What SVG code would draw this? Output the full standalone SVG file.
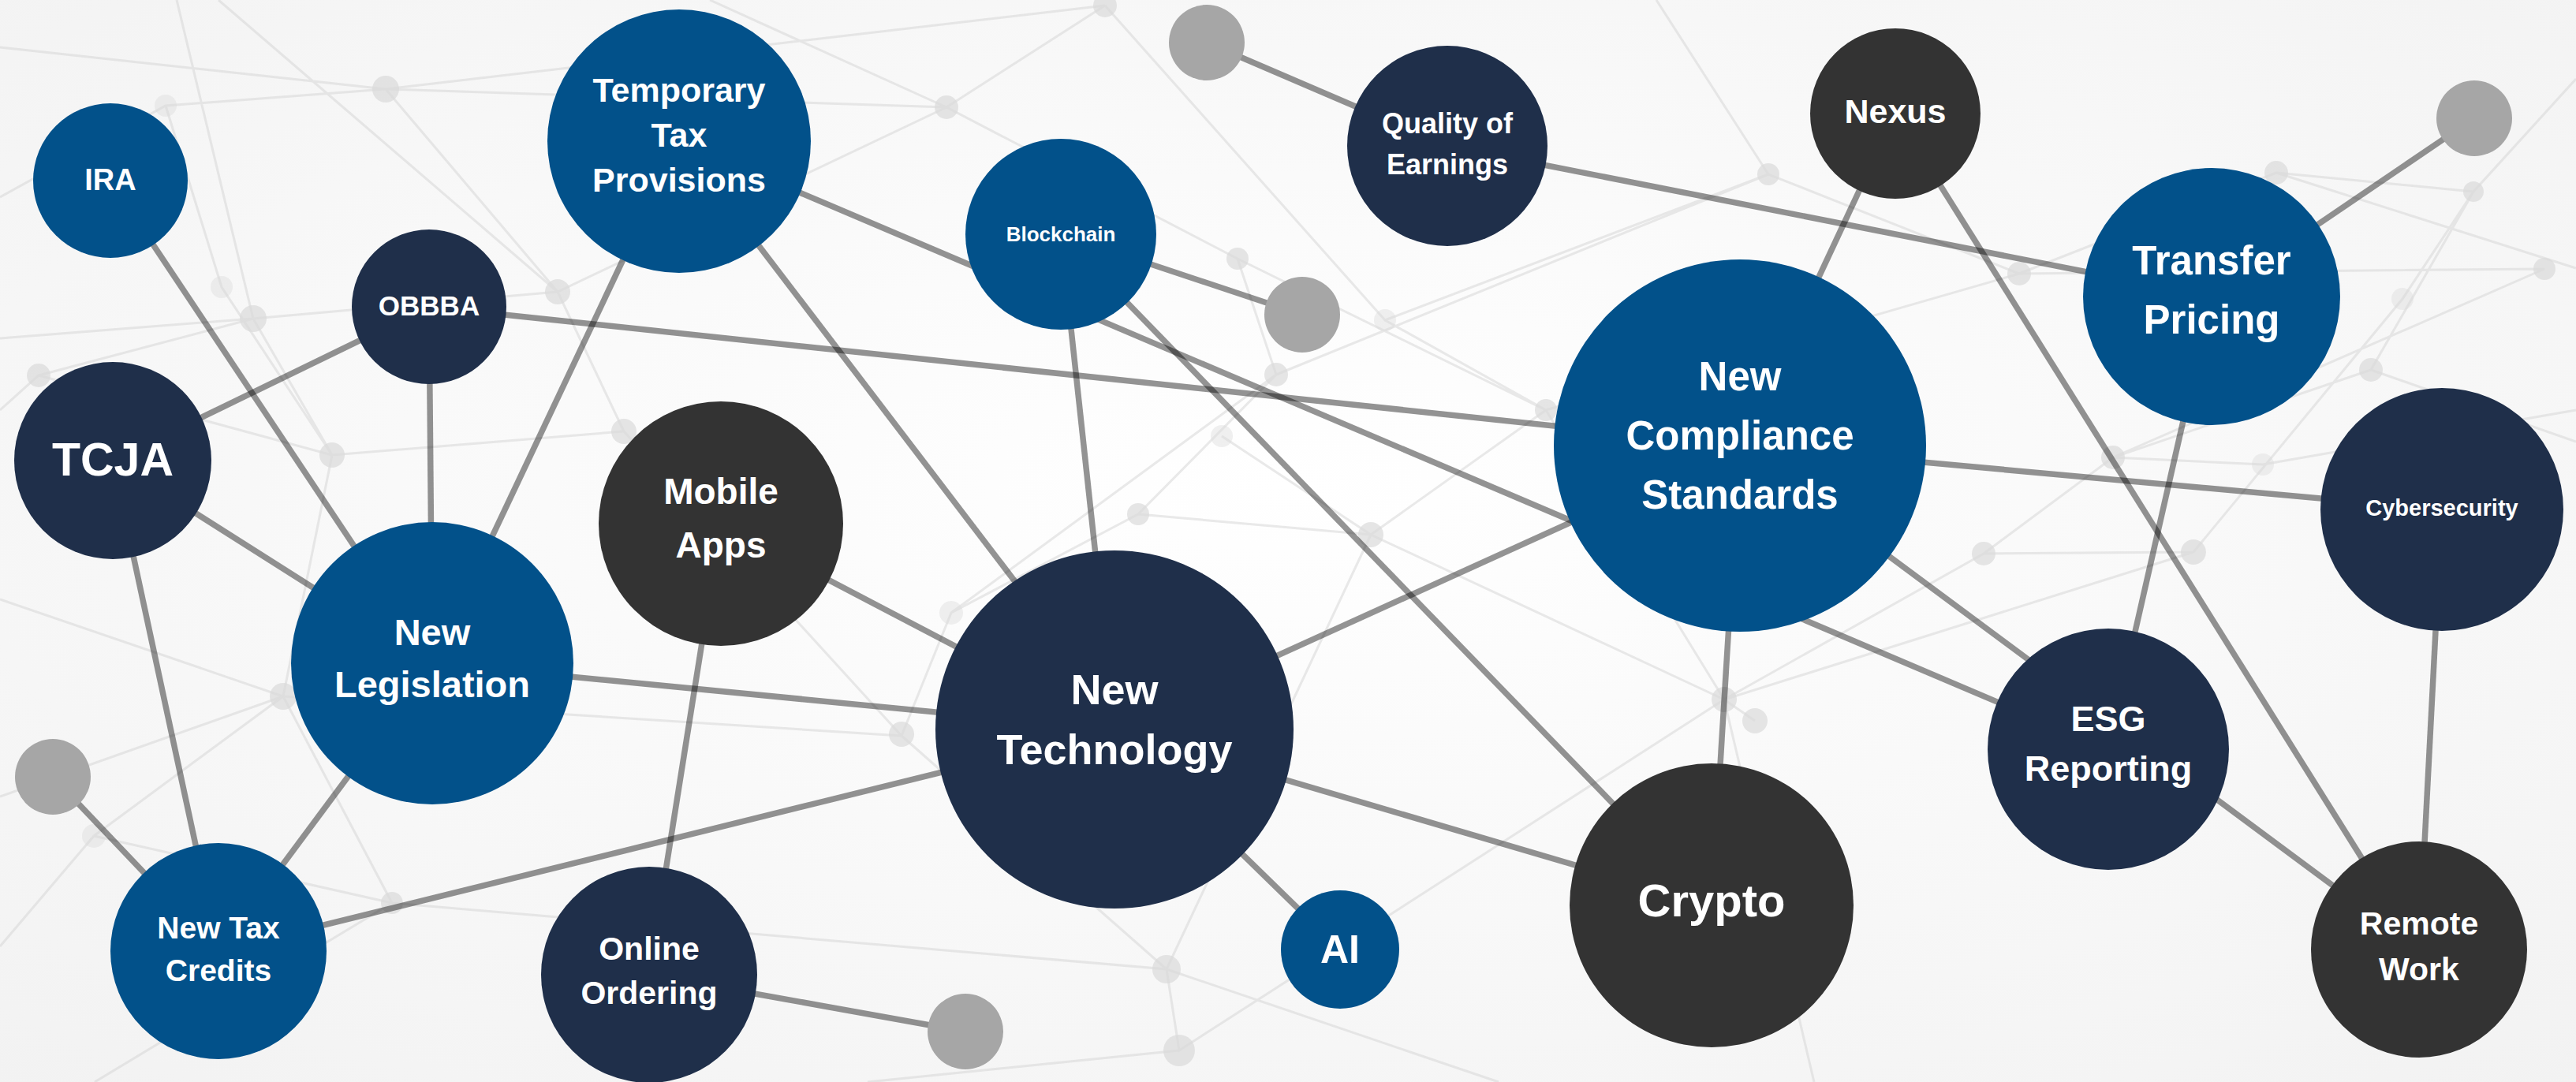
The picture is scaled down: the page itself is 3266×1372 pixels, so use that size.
<svg xmlns="http://www.w3.org/2000/svg" width="3266" height="1372" viewBox="0 0 3266 1372">
<defs>
<radialGradient id="bg" cx="50%" cy="45%" r="75%"><stop offset="0" stop-color="#ffffff"/><stop offset="1" stop-color="#f2f2f2"/></radialGradient>
<style>
.bgl{stroke:#d4d4d4;stroke-width:3;stroke-opacity:.5;fill:none}
.bgd{fill:#dadada;fill-opacity:.7}
.c{stroke:#000;stroke-opacity:.42;stroke-width:7.5;fill:none}
.blue{fill:#02518A}
.navy{fill:#1F2F4A}
.dark{fill:#333333}
.gray{fill:#A6A6A6}
text{font-family:"Liberation Sans",Arial,sans-serif;font-weight:bold;fill:#ffffff;text-anchor:middle}
</style>
</defs>
<rect width="3266" height="1372" fill="url(#bg)"/>
<g id="background">
<path class="bgl" d="M224 0 L321 404 L421 577 L791 547 L707 370 L277 0 M0 429 L321 404 L707 370 L1200 136 L1401 7 M49 476 L321 404 M0 520 L49 476 L421 577 L359 883 L497 1145 L1479 1229 L1495 1332 L2186 887 L2515 702 L2679 580 L3006 469 L3136 243 L3266 100 M489 113 L0 60 M489 113 L1200 136 L1569 328 L1960 520 L2560 347 L2886 219 L3136 243 M489 113 L707 370 M489 113 L1401 7 M1569 328 L1618 475 L1443 652 L1738 678 L1960 520 M1618 475 L2242 221 L2560 347 L3226 341 L2679 580 M2886 219 L3266 340 M2781 700 L2186 887 L2225 914 M1143 933 L791 547 M1143 933 L359 883 M1143 933 L1206 777 L1443 652 M1143 933 L1479 1229 L1738 678 M497 1145 L120 1372 M1495 1332 L1100 1372 M0 760 L359 883 L0 1010 M2242 221 L2100 0 M3006 469 L3266 560 M2679 580 L2869 589 L3266 520 M2515 702 L2781 700 L3046 379 L3136 243 M210 134 L281 364 L421 577 M0 250 L210 134 L489 113 M1756 406 L1960 520 L2186 887 M1549 553 L1738 678 L2186 887 M1206 777 L1618 475 M2186 887 L2300 1372 M1479 1229 L1900 1372 M119 1060 L0 1200 M119 1060 L359 883 M119 1060 L497 1145 M1401 7 L1756 406 L2242 221 M1200 136 L900 0"/>
<g class="bgd">
<circle cx="489" cy="113" r="17"/><circle cx="321" cy="404" r="17"/><circle cx="707" cy="370" r="16"/><circle cx="49" cy="476" r="15"/><circle cx="421" cy="577" r="16"/><circle cx="791" cy="547" r="16"/><circle cx="1200" cy="136" r="15"/><circle cx="1401" cy="7" r="15"/><circle cx="1569" cy="328" r="14"/><circle cx="1618" cy="475" r="15"/><circle cx="1443" cy="652" r="14"/><circle cx="1738" cy="678" r="16"/><circle cx="1960" cy="520" r="14"/><circle cx="2242" cy="221" r="14"/><circle cx="2560" cy="347" r="15"/><circle cx="2886" cy="219" r="15"/><circle cx="3136" cy="243" r="13"/><circle cx="3226" cy="341" r="14"/><circle cx="3006" cy="469" r="15"/><circle cx="2679" cy="580" r="15"/><circle cx="359" cy="883" r="17"/><circle cx="497" cy="1145" r="14"/><circle cx="1143" cy="931" r="16"/><circle cx="1479" cy="1229" r="18"/><circle cx="1495" cy="1332" r="20"/><circle cx="2186" cy="887" r="16"/><circle cx="2515" cy="702" r="15"/><circle cx="2781" cy="700" r="16"/><circle cx="2225" cy="914" r="16"/><circle cx="1756" cy="406" r="14" fill-opacity=".4"/><circle cx="2869" cy="589" r="14" fill-opacity=".4"/><circle cx="3046" cy="379" r="14" fill-opacity=".4"/><circle cx="210" cy="134" r="14" fill-opacity=".4"/><circle cx="281" cy="364" r="14" fill-opacity=".4"/><circle cx="1206" cy="777" r="15" fill-opacity=".4"/><circle cx="119" cy="1060" r="15" fill-opacity=".4"/><circle cx="1549" cy="553" r="14" fill-opacity=".4"/>
</g>
</g>
<g id="connectors">
<line class="c" x1="140" y1="229" x2="548" y2="841"/>
<line class="c" x1="544" y1="389" x2="143" y2="584"/>
<line class="c" x1="544" y1="389" x2="548" y2="841"/>
<line class="c" x1="544" y1="389" x2="2206" y2="565"/>
<line class="c" x1="861" y1="179" x2="548" y2="841"/>
<line class="c" x1="861" y1="179" x2="1430" y2="925"/>
<line class="c" x1="861" y1="179" x2="2673" y2="950"/>
<line class="c" x1="1345" y1="297" x2="1413" y2="925"/>
<line class="c" x1="1345" y1="297" x2="2170" y2="1148"/>
<line class="c" x1="1345" y1="297" x2="1651" y2="399"/>
<line class="c" x1="1530" y1="54" x2="1835" y2="185"/>
<line class="c" x1="1835" y1="185" x2="2804" y2="376"/>
<line class="c" x1="2403" y1="144" x2="2206" y2="565"/>
<line class="c" x1="2403" y1="144" x2="3067" y2="1204"/>
<line class="c" x1="2804" y1="376" x2="3137" y2="150"/>
<line class="c" x1="2804" y1="376" x2="2673" y2="950"/>
<line class="c" x1="2206" y1="565" x2="3096" y2="646"/>
<line class="c" x1="2206" y1="565" x2="3067" y2="1204"/>
<line class="c" x1="1413" y1="925" x2="2206" y2="565"/>
<line class="c" x1="1413" y1="925" x2="2170" y2="1148"/>
<line class="c" x1="1413" y1="925" x2="1699" y2="1204"/>
<line class="c" x1="548" y1="841" x2="1413" y2="925"/>
<line class="c" x1="914" y1="664" x2="1413" y2="925"/>
<line class="c" x1="277" y1="1206" x2="1413" y2="925"/>
<line class="c" x1="914" y1="664" x2="823" y2="1236"/>
<line class="c" x1="823" y1="1236" x2="1224" y2="1308"/>
<line class="c" x1="548" y1="841" x2="277" y2="1206"/>
<line class="c" x1="143" y1="584" x2="277" y2="1206"/>
<line class="c" x1="143" y1="584" x2="548" y2="841"/>
<line class="c" x1="67" y1="985" x2="277" y2="1206"/>
<line class="c" x1="2206" y1="565" x2="2170" y2="1148"/>
<line class="c" x1="3096" y1="646" x2="3067" y2="1204"/>
</g>
<g id="dots">
<circle class="gray" cx="1530" cy="54" r="48"/>
<circle class="gray" cx="1651" cy="399" r="48"/>
<circle class="gray" cx="3137" cy="150" r="48"/>
<circle class="gray" cx="67" cy="985" r="48"/>
<circle class="gray" cx="1224" cy="1308" r="48"/>
</g>
<g id="n-ira"><circle class="blue" cx="140" cy="229" r="98"/><text x="140" y="241" font-size="38">IRA</text></g>
<g id="n-ttp"><circle class="blue" cx="861" cy="179" r="167"/><text x="861" font-size="43"><tspan x="861" y="129">Temporary</tspan><tspan x="861" y="186">Tax</tspan><tspan x="861" y="243">Provisions</tspan></text></g>
<g id="n-obbba"><circle class="navy" cx="544" cy="389" r="98"/><text x="544" y="400" font-size="35">OBBBA</text></g>
<g id="n-tcja"><circle class="navy" cx="143" cy="584" r="125"/><text x="143" y="603" font-size="59">TCJA</text></g>
<g id="n-mobile"><circle class="dark" cx="914" cy="664" r="155"/><text font-size="46"><tspan x="914" y="639">Mobile</tspan><tspan x="914" y="707">Apps</tspan></text></g>
<g id="n-qoe"><circle class="navy" cx="1835" cy="185" r="127"/><text font-size="36"><tspan x="1835" y="169">Quality of</tspan><tspan x="1835" y="221">Earnings</tspan></text></g>
<g id="n-blockchain"><circle class="blue" cx="1345" cy="297" r="121"/><text x="1345" y="306" font-size="26">Blockchain</text></g>
<g id="n-ncs"><circle class="blue" cx="2206" cy="565" r="236"/><text font-size="51"><tspan x="2206" y="495">New</tspan><tspan x="2206" y="570">Compliance</tspan><tspan x="2206" y="645">Standards</tspan></text></g>
<g id="n-nexus"><circle class="dark" cx="2403" cy="144" r="108"/><text x="2403" y="156" font-size="43">Nexus</text></g>
<g id="n-tp"><circle class="blue" cx="2804" cy="376" r="163"/><text font-size="51"><tspan x="2804" y="348">Transfer</tspan><tspan x="2804" y="423">Pricing</tspan></text></g>
<g id="n-cyber"><circle class="navy" cx="3096" cy="646" r="154"/><text x="3096" y="654" font-size="29">Cybersecurity</text></g>
<g id="n-nl"><circle class="blue" cx="548" cy="841" r="179"/><text font-size="47"><tspan x="548" y="818">New</tspan><tspan x="548" y="884">Legislation</tspan></text></g>
<g id="n-ntc"><circle class="blue" cx="277" cy="1206" r="137"/><text font-size="39"><tspan x="277" y="1190">New Tax</tspan><tspan x="277" y="1244">Credits</tspan></text></g>
<g id="n-oo"><circle class="navy" cx="823" cy="1236" r="137"/><text font-size="41"><tspan x="823" y="1217">Online</tspan><tspan x="823" y="1273">Ordering</tspan></text></g>
<g id="n-nt"><circle class="navy" cx="1413" cy="925" r="227"/><text font-size="54"><tspan x="1413" y="893">New</tspan><tspan x="1413" y="969">Technology</tspan></text></g>
<g id="n-ai"><circle class="blue" cx="1699" cy="1204" r="75"/><text x="1699" y="1221" font-size="50">AI</text></g>
<g id="n-crypto"><circle class="dark" cx="2170" cy="1148" r="180"/><text x="2170" y="1162" font-size="58">Crypto</text></g>
<g id="n-esg"><circle class="navy" cx="2673" cy="950" r="153"/><text font-size="45"><tspan x="2673" y="927">ESG</tspan><tspan x="2673" y="990">Reporting</tspan></text></g>
<g id="n-remote"><circle class="dark" cx="3067" cy="1204" r="137"/><text font-size="41"><tspan x="3067" y="1185">Remote</tspan><tspan x="3067" y="1243">Work</tspan></text></g>
</svg>
